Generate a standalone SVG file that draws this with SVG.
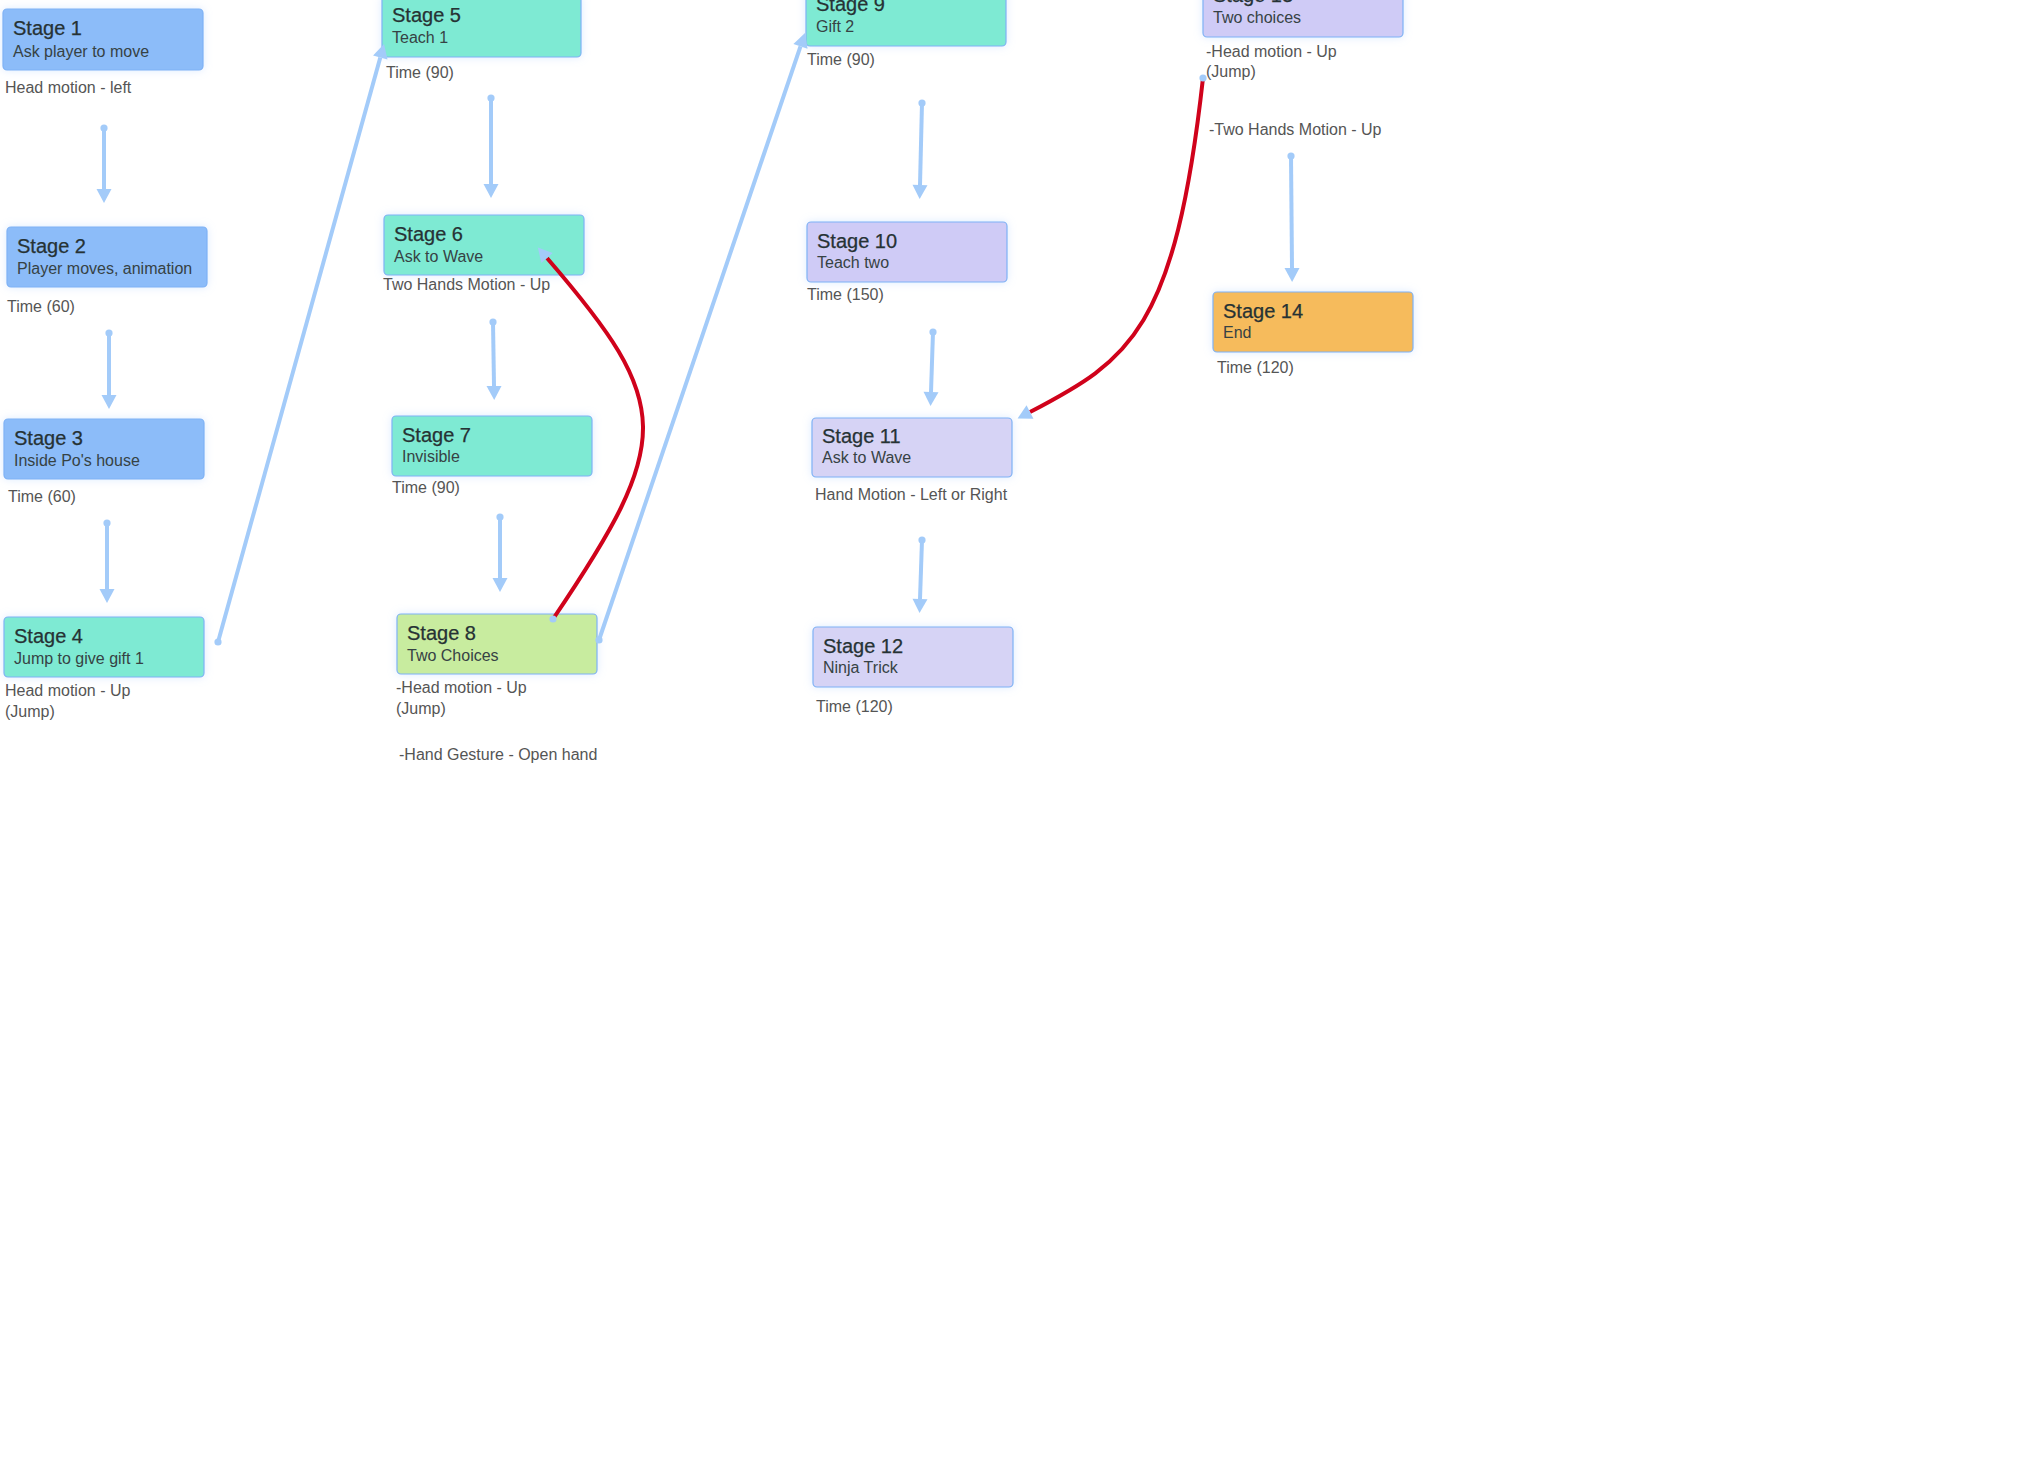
<svg xmlns="http://www.w3.org/2000/svg" width="2019" height="1462" viewBox="0 0 2019 1462">
<style>
.box{stroke:#7fb2f5;stroke-width:1.2;filter:url(#glow)}
.blue{fill:#8cbcf9}
.mint{fill:#7eead3}
.green{fill:#c8ec9f}
.lav{fill:#cfcbf6}
.lav2{fill:#d6d3f5}
.orange{fill:#f6bb5c}
.title{font-family:"Liberation Sans",Arial,sans-serif;font-size:20px;fill:#263234;stroke:#263234;stroke-width:0.25}
.sub{font-family:"Liberation Sans",Arial,sans-serif;font-size:16px;fill:#364244}
.lbl{font-family:"Liberation Sans",Arial,sans-serif;font-size:16px;fill:#555}
.c{fill:none;stroke:#a3cbf9;stroke-width:4;marker-start:url(#dot);marker-end:url(#arr)}
.r{fill:none;stroke:#d0021b;stroke-width:4;marker-start:url(#dot);marker-end:url(#arr)}
</style>
<defs>
<filter id="glow" x="-10%" y="-30%" width="120%" height="160%">
<feDropShadow dx="0" dy="0" stdDeviation="4" flood-color="#9cc8ff" flood-opacity="0.35"/>
</filter>
<marker id="arr" markerUnits="userSpaceOnUse" markerWidth="16" markerHeight="16" refX="0" refY="8" orient="auto" overflow="visible">
<path d="M0,0.5 L14,8 L0,15.5 z" fill="#a3cbf9"/>
</marker>
<marker id="dot" markerUnits="userSpaceOnUse" markerWidth="10" markerHeight="10" refX="5" refY="5" overflow="visible">
<circle cx="5" cy="5" r="3.6" fill="#a3cbf9"/>
</marker>
</defs>
<rect width="2019" height="1462" fill="#fff"/>

<g id="stage1"><rect class="box blue" x="3" y="9" width="200" height="61" rx="4"/><text class="title" x="13" y="35">Stage 1</text><text class="sub" x="13" y="57">Ask player to move</text><text class="lbl" x="5" y="93">Head motion - left</text></g>
<g id="stage2"><rect class="box blue" x="7" y="227" width="200" height="60" rx="4"/><text class="title" x="17" y="253">Stage 2</text><text class="sub" x="17" y="274">Player moves, animation</text><text class="lbl" x="7" y="312">Time (60)</text></g>
<g id="stage3"><rect class="box blue" x="4" y="419" width="200" height="60" rx="4"/><text class="title" x="14" y="445">Stage 3</text><text class="sub" x="14" y="466">Inside Po's house</text><text class="lbl" x="8" y="502">Time (60)</text></g>
<g id="stage4"><rect class="box mint" x="4" y="617" width="200" height="60" rx="4"/><text class="title" x="14" y="643">Stage 4</text><text class="sub" x="14" y="664">Jump to give gift 1</text><text class="lbl" x="5" y="696">Head motion - Up</text><text class="lbl" x="5" y="717">(Jump)</text></g>
<g id="stage5"><rect class="box mint" x="382" y="-4" width="199" height="61" rx="4"/><text class="title" x="392" y="22">Stage 5</text><text class="sub" x="392" y="43">Teach 1</text><text class="lbl" x="386" y="78">Time (90)</text></g>
<g id="stage6"><rect class="box mint" x="384" y="215" width="200" height="60" rx="4"/><text class="title" x="394" y="241">Stage 6</text><text class="sub" x="394" y="262">Ask to Wave</text><text class="lbl" x="383" y="290">Two Hands Motion - Up</text></g>
<g id="stage7"><rect class="box mint" x="392" y="416" width="200" height="60" rx="4"/><text class="title" x="402" y="442">Stage 7</text><text class="sub" x="402" y="462">Invisible</text><text class="lbl" x="392" y="493">Time (90)</text></g>
<g id="stage8"><rect class="box green" x="397" y="614" width="200" height="60" rx="4"/><text class="title" x="407" y="640">Stage 8</text><text class="sub" x="407" y="661">Two Choices</text><text class="lbl" x="396" y="693">-Head motion - Up</text><text class="lbl" x="396" y="714">(Jump)</text><text class="lbl" x="399" y="760">-Hand Gesture - Open hand</text></g>
<g id="stage9"><rect class="box mint" x="806" y="-15" width="200" height="61" rx="4"/><text class="title" x="816" y="11">Stage 9</text><text class="sub" x="816" y="32">Gift 2</text><text class="lbl" x="807" y="65">Time (90)</text></g>
<g id="stage10"><rect class="box lav" x="807" y="222" width="200" height="60" rx="4"/><text class="title" x="817" y="248">Stage 10</text><text class="sub" x="817" y="268">Teach two</text><text class="lbl" x="807" y="300">Time (150)</text></g>
<g id="stage11"><rect class="box lav2" x="812" y="418" width="200" height="59" rx="4"/><text class="title" x="822" y="443">Stage 11</text><text class="sub" x="822" y="463">Ask to Wave</text><text class="lbl" x="815" y="500">Hand Motion - Left or Right</text></g>
<g id="stage12"><rect class="box lav2" x="813" y="627" width="200" height="60" rx="4"/><text class="title" x="823" y="653">Stage 12</text><text class="sub" x="823" y="673">Ninja Trick</text><text class="lbl" x="816" y="712">Time (120)</text></g>
<g id="stage13"><rect class="box lav" x="1203" y="-24" width="200" height="61" rx="4"/><text class="title" x="1213" y="2">Stage 13</text><text class="sub" x="1213" y="23">Two choices</text><text class="lbl" x="1206" y="57">-Head motion - Up</text><text class="lbl" x="1206" y="77">(Jump)</text><text class="lbl" x="1209" y="135">-Two Hands Motion - Up</text></g>
<g id="stage14"><rect class="box orange" x="1213" y="292" width="200" height="60" rx="4"/><text class="title" x="1223" y="318">Stage 14</text><text class="sub" x="1223" y="338">End</text><text class="lbl" x="1217" y="373">Time (120)</text></g>

<g id="connectors">
<path class="c" d="M104,128 L104,189"/>
<path class="c" d="M109,333 L109,395"/>
<path class="c" d="M107,523 L107,589"/>
<path class="c" d="M218,642 L380.3,57.5"/>
<path class="c" d="M491,98 L491,184"/>
<path class="c" d="M493,322 L494,386"/>
<path class="c" d="M500,517 L500,578"/>
<path class="c" d="M599,640 L800.5,46.3"/>
<path class="c" d="M922,103 L920,185"/>
<path class="c" d="M933,332 L931,392"/>
<path class="c" d="M922,540 L920,599"/>
<path class="c" d="M1291,156 L1292,268"/>
<path class="r" d="M553,619 C674,440 674,405 547,258"/>
<path class="r" d="M1203,78 C1175,330 1130,360 1030,412"/>
</g>
</svg>
